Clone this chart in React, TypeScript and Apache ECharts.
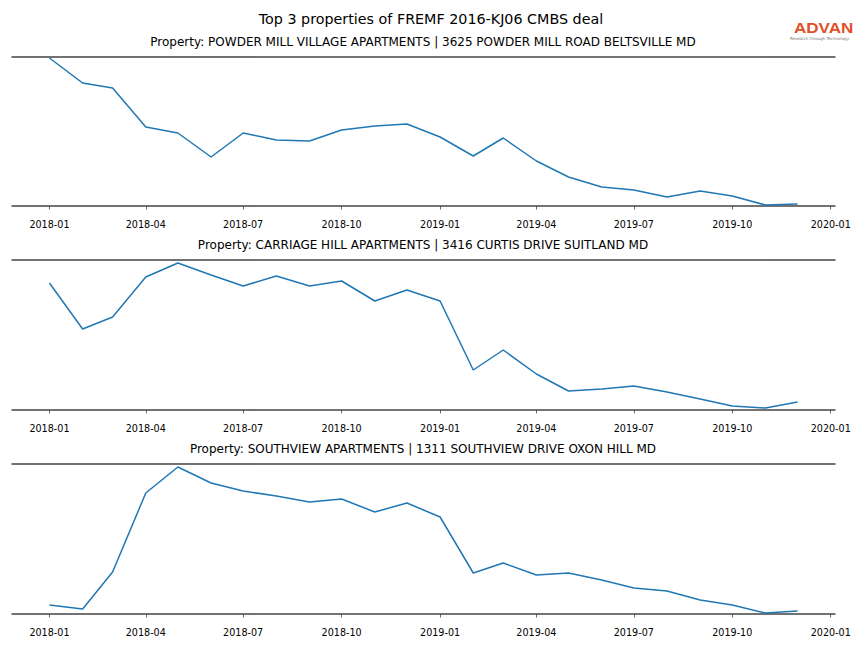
import React, { useEffect, useRef } from "react";
import * as echarts from "echarts";

const months: string[] = [
  "2018-01", "2018-02", "2018-03", "2018-04", "2018-05", "2018-06",
  "2018-07", "2018-08", "2018-09", "2018-10", "2018-11", "2018-12",
  "2019-01", "2019-02", "2019-03", "2019-04", "2019-05", "2019-06",
  "2019-07", "2019-08", "2019-09", "2019-10", "2019-11", "2019-12",
];

const powderMill: number[] = [148, 123, 118, 79, 73, 49, 73, 66, 65, 76, 80, 82, 69, 50, 68, 45, 29, 19, 16, 9, 15, 10, 1, 2];
const carriageHill: number[] = [127, 81, 93, 133, 147, 135, 124, 134, 124, 129, 109, 120, 109, 40, 60, 36, 19, 21, 24, 18, 11, 4, 2, 8];
const southview: number[] = [9, 5, 42, 121, 147, 131, 123, 118, 112, 115, 102, 111, 97, 41, 51, 39, 41, 34, 26, 23, 14, 9, 1, 3];

const panelTitles: string[] = [
  "Property: POWDER MILL VILLAGE APARTMENTS | 3625 POWDER MILL ROAD BELTSVILLE MD",
  "Property: CARRIAGE HILL APARTMENTS | 3416 CURTIS DRIVE SUITLAND MD",
  "Property: SOUTHVIEW APARTMENTS | 1311 SOUTHVIEW DRIVE OXON HILL MD",
];
const yMax: number[] = [149, 150, 150];
const mainTitle = "Top 3 properties of FREMF 2016-KJ06 CMBS deal";

const toTs = (m: string) => {
  const [y, mo] = m.split("-").map(Number);
  return new Date(y, mo - 1, 1).getTime();
};

export default function App() {
  const ref = useRef<HTMLDivElement>(null);
  useEffect(() => {
    if (!ref.current) return;
    const chart = echarts.init(ref.current, undefined, { renderer: "svg" });
    const font = "DejaVu Sans";
    const xMin = new Date(2017, 10, 27).getTime();
    const xMax = new Date(2020, 0, 5).getTime();
    const tops = [57, 260, 464];
    const heights = [149, 150, 150];
    const allSeries = [powderMill, carriageHill, southview];
    const grids: any[] = [];
    const xAxes: any[] = [];
    const yAxes: any[] = [];
    const series: any[] = [];
    const titles: any[] = [
      {
        text: mainTitle,
        left: 431,
        textAlign: "center",
        top: 12,
        padding: 0,
        textStyle: { fontFamily: font, fontSize: 14.3, fontWeight: "normal", color: "#000" },
      },
    ];
    const spine = { show: true, lineStyle: { color: "#444", width: 1.5 } };
    tops.forEach((t, i) => {
      grids.push({ left: 12, right: 29, top: t, height: heights[i] });
      titles.push({
        text: panelTitles[i],
        left: 423,
        textAlign: "center",
        top: t - 21,
        padding: 0,
        textStyle: { fontFamily: font, fontSize: 12, fontWeight: "normal", color: "#000" },
      });
      // labelled axis, slightly offset below the bottom spine
      xAxes.push({
        type: "time",
        gridIndex: i,
        min: xMin,
        max: xMax,
        offset: 5,
        minInterval: 89 * 86400000,
        maxInterval: 92 * 86400000,
        axisLine: { show: false },
        axisTick: { show: true, length: 3.5, lineStyle: { color: "#444", width: 0.8 } },
        axisLabel: {
          formatter: "{yyyy}-{MM}",
          fontFamily: font,
          fontSize: 9.6,
          color: "#000",
          margin: 8,
          showMinLabel: false,
          showMaxLabel: false,
          hideOverlap: false,
        },
        splitLine: { show: false },
      });
      // bottom spine
      xAxes.push({
        type: "time",
        gridIndex: i,
        position: "bottom",
        min: xMin,
        max: xMax,
        axisLine: spine,
        axisTick: { show: false },
        axisLabel: { show: false },
        splitLine: { show: false },
      });
      // top spine
      xAxes.push({
        type: "time",
        gridIndex: i,
        position: "top",
        min: xMin,
        max: xMax,
        axisLine: spine,
        axisTick: { show: false },
        axisLabel: { show: false },
        splitLine: { show: false },
      });
      yAxes.push({
        type: "value",
        gridIndex: i,
        min: 0,
        max: yMax[i],
        show: false,
      });
      series.push({
        type: "line",
        xAxisIndex: i * 3,
        yAxisIndex: i,
        data: months.map((m, k) => [toTs(m), allSeries[i][k]]),
        showSymbol: false,
        symbol: "none",
        lineStyle: { color: "#1f77b4", width: 1.5 },
        itemStyle: { color: "#1f77b4" },
      });
    });
    chart.setOption({
      animation: false,
      backgroundColor: "#fff",
      title: titles,
      grid: grids,
      xAxis: xAxes,
      yAxis: yAxes,
      series,
      graphic: [
        {
          type: "text",
          x: 794,
          y: 19.8,
          scaleX: 1.1,
          style: {
            text: "ADVAN",
            fontFamily: "Liberation Sans",
            fontSize: 15.5,
            lineHeight: 15.5,
            fontWeight: "bold",
            fill: "#e0502a",
            textVerticalAlign: "top",
          },
        },
        {
          type: "text",
          x: 790,
          y: 36.5,
          style: {
            text: "Research through Technology",
            fontFamily: font,
            fontSize: 4,
            lineHeight: 4,
            fill: "#777",
            textVerticalAlign: "top",
          },
        },
      ],
    });
    return () => chart.dispose();
  }, []);
  return (
    <div
      ref={ref}
      style={{ position: "absolute", left: 0, top: 0, width: 864, height: 648 }}
    />
  );
}
